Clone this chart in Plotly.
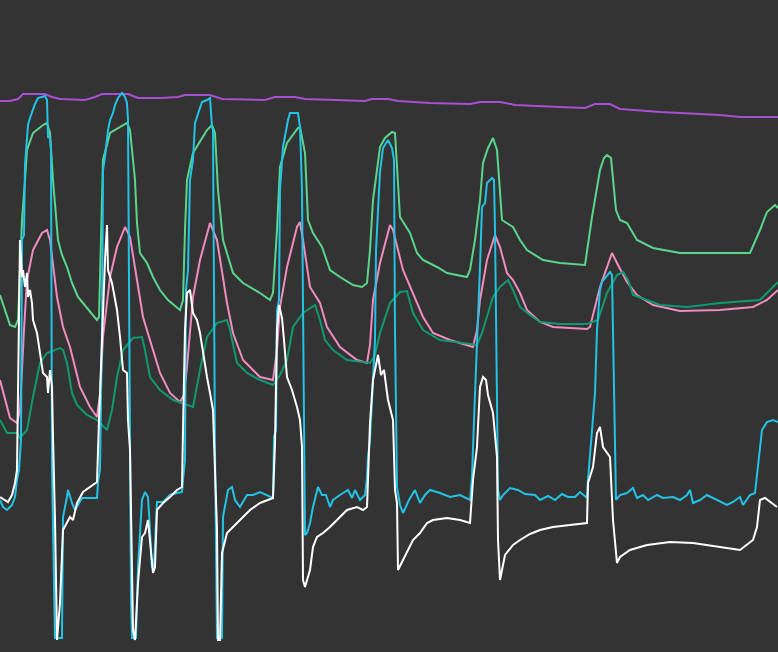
import plotly.graph_objects as go

# Each series: list of (time, reading) pairs; readings increase downward (reversed axis)
purple = [(0,101),(10,101),(18,99),(23,94),(45,94),(52,97),(60,99),(85,100),(95,97),(102,94),(128,94),
          (138,98),(160,98),(178,97),(185,95),(210,95),(222,99),(265,100),(275,97),(295,97),(305,99),
          (330,100),(365,101),(372,99),(388,99),(398,101),(430,103),(470,104),(480,102),(500,102),
          (515,105),(560,107),(585,108),(595,104),(610,104),(620,109),(660,112),(720,115),(740,117),(778,117)]

green = [(0,295),(5,310),(10,325),(15,327),(18,320),(20,270),(22,220),(25,180),(27,150),(33,133),(43,125),
         (47,123),(50,133),(53,180),(58,240),(62,255),(67,267),(72,283),(78,297),(87,308),(97,320),(99,317),
         (101,250),(103,160),(110,133),(123,125),(127,123),(130,130),(135,180),(137,223),(140,253),(147,263),
         (153,277),(160,290),(168,300),(180,310),(183,300),(185,230),(187,180),(193,153),(207,130),(212,125),
         (215,133),(218,190),(223,240),(233,273),(243,283),(260,293),(270,300),(273,293),(277,230),(280,167),
         (287,143),(298,128),(300,127),(305,153),(308,220),(313,233),(322,247),(330,270),(340,277),(353,285),
         (362,287),(367,283),(370,250),(373,200),(380,147),(385,138),(392,132),(395,133),(400,217),(410,233),
         (417,253),(423,260),(437,267),(447,273),(467,277),(470,270),(475,240),(480,200),(483,163),(488,148),
         (493,138),(497,150),(502,220),(513,227),(520,240),(527,250),(543,260),(560,263),(585,265),(592,217),
         (600,170),(604,158),(607,155),(611,158),(616,210),(620,220),(627,223),(637,240),(653,248),(680,253),
         (750,253),(760,230),(767,212),(775,205),(778,208)]

pink = [(0,380),(5,400),(10,418),(17,423),(20,410),(24,330),(27,280),(33,250),(42,233),(47,230),(50,240),
        (57,297),(63,327),(70,347),(80,387),(90,407),(97,417),(100,395),(103,337),(110,277),(117,247),
        (125,227),(130,237),(137,280),(143,317),(153,350),(160,373),(170,393),(180,402),(184,395),(187,367),
        (193,297),(200,260),(210,223),(217,240),(227,303),(233,333),(243,360),(260,377),(273,380),(277,350),
        (280,307),(287,267),(297,227),(300,222),(303,240),(310,287),(320,303),(327,327),(340,347),(357,360),
        (367,363),(370,345),(373,300),(380,263),(390,225),(393,230),(403,270),(413,293),(423,317),(433,333),
        (450,340),(473,347),(477,330),(480,300),(487,260),(495,235),(500,247),(507,273),(513,280),(520,293),
        (527,310),(540,322),(553,327),(587,329),(590,327),(600,287),(612,253),(617,263),(627,282),(637,295),
        (653,305),(680,311),(720,310),(753,307),(767,300),(778,290)]

teal = [(0,420),(7,433),(17,433),(20,438),(27,430),(33,397),(40,363),(47,353),(60,348),(63,350),(67,363),
        (72,393),(77,405),(87,415),(97,420),(107,430),(112,410),(117,377),(123,350),(133,338),(142,337),
        (145,350),(150,377),(160,390),(173,400),(187,405),(193,407),(200,370),(207,337),(217,323),(227,320),
        (230,330),(237,363),(247,373),(260,380),(273,385),(280,375),(287,360),(293,327),(303,313),(315,305),
        (320,320),(325,340),(333,350),(347,360),(370,363),(375,355),(380,333),(390,303),(400,292),(407,291),
        (413,313),(423,330),(440,340),(460,343),(477,345),(482,333),(487,317),(493,297),(500,287),(508,280),
        (513,290),(520,307),(530,315),(540,322),(560,324),(587,324),(598,320),(607,293),(617,275),(623,272),
        (628,280),(633,295),(647,300),(660,305),(687,307),(720,303),(760,300),(778,282)]

cyan = [(0,500),(3,507),(7,510),(12,505),(15,497),(17,480),(19,470),(21,440),(22,240),(24,235),(25,165),
        (28,125),(30,118),(32,112),(35,104),(38,98),(45,96),(47,100),(48,137),(50,138),(51,150),(52,470),
        (54,600),(55,638),(62,638),(63,517),(67,497),(68,490),(72,503),(75,510),(78,505),(82,498),(97,498),
        (98,482),(100,470),(102,330),(103,170),(105,157),(108,130),(110,120),(113,113),(115,105),(118,98),
        (122,93),(125,97),(127,103),(128,120),(130,450),(131,600),(132,638),(136,638),(138,567),(142,500),
        (145,492),(148,497),(150,530),(152,568),(154,565),(156,510),(157,502),(163,502),(170,495),(177,493),
        (182,492),(183,480),(185,460),(186,290),(188,270),(190,180),(193,160),(195,123),(198,113),(202,102),
        (207,100),(210,98),(212,127),(213,130),(215,450),(217,638),(222,638),(223,517),(228,490),(232,487),
        (235,500),(240,507),(247,495),(253,495),(260,492),(273,498),(274,437),(276,430),(277,310),(279,300),
        (280,190),(283,147),(288,120),(290,113),(298,113),(300,127),(302,190),(303,300),(304,420),(305,535),
        (307,533),(310,523),(313,507),(318,487),(322,495),(326,495),(330,507),(333,500),(340,495),(348,490),
        (352,498),(355,490),(360,500),(365,495),(367,477),(368,457),(370,440),(372,400),(375,340),(376,250),
        (380,172),(383,148),(388,140),(392,148),(394,160),(395,330),(397,487),(400,505),(403,513),(409,500),
        (415,490),(420,503),(425,495),(430,490),(440,493),(450,497),(460,495),(470,500),(472,477),(474,420),
        (477,350),(480,267),(482,207),(485,203),(487,183),(492,178),(494,180),(495,230),(497,400),(498,490),
        (500,500),(503,495),(510,488),(518,490),(525,494),(535,495),(540,500),(548,496),(555,500),(562,494),
        (568,497),(575,497),(580,492),(587,498),(588,480),(592,433),(595,393),(597,330),(600,290),(602,282),
        (605,278),(610,272),(612,275),(614,400),(616,500),(620,495),(627,493),(633,488),(637,498),(643,495),
        (648,500),(657,495),(663,498),(673,497),(680,500),(687,495),(690,490),(693,503),(700,500),(707,495),
        (713,498),(720,502),(727,505),(733,502),(740,497),(743,505),(750,495),(755,493),(758,463),(762,430),
        (767,422),(773,420),(778,422)]

white = [(0,497),(5,500),(8,502),(12,495),(15,483),(17,470),(18,380),(20,240),(22,277),(23,270),(25,287),
         (27,273),(28,297),(30,290),(32,303),(33,320),(37,333),(40,353),(43,373),(47,377),(48,393),(50,370),
         (52,387),(53,437),(54,500),(55,520),(57,640),(60,603),(63,530),(67,523),(70,517),(73,520),(77,503),
         (83,492),(90,487),(97,482),(99,420),(102,330),(105,260),(107,225),(108,270),(112,283),(115,300),
         (117,310),(120,337),(123,370),(127,373),(128,420),(130,450),(133,630),(135,640),(138,583),(142,537),
         (145,533),(148,520),(152,563),(153,573),(155,567),(157,510),(163,503),(170,497),(177,490),(182,487),
         (183,430),(185,330),(187,293),(190,290),(193,313),(197,320),(200,333),(203,353),(207,377),(210,393),
         (213,410),(215,470),(217,530),(218,640),(220,640),(222,553),(227,533),(233,527),(240,520),(250,510),
         (260,503),(273,498),(275,443),(277,330),(279,305),(282,318),(284,340),(287,377),(292,390),(297,407),
         (300,420),(302,447),(303,580),(305,587),(310,570),(313,547),(317,537),(323,533),(330,527),(337,520),
         (347,510),(357,507),(363,510),(367,507),(368,473),(370,423),(373,380),(376,365),(378,355),(381,375),
         (384,370),(388,400),(393,420),(395,490),(397,503),(398,570),(403,560),(407,553),(413,540),(420,533),
         (427,523),(433,520),(447,518),(460,520),(470,523),(473,480),(477,447),(480,387),(483,377),(486,380),
         (488,395),(493,413),(497,457),(498,540),(500,580),(505,555),(513,545),(520,540),(530,534),(540,530),
         (553,527),(570,525),(587,523),(588,483),(593,467),(597,433),(600,427),(603,447),(610,457),(613,520),
         (617,563),(620,557),(630,550),(647,545),(670,542),(693,543),(720,547),(740,550),(753,540),(757,527),
         (760,500),(765,498),(777,507)]

series = [
    ("purple", purple, "#a94fd4"),
    ("green", green, "#5ad68c"),
    ("pink", pink, "#f08cbe"),
    ("teal", teal, "#10996f"),
    ("cyan", cyan, "#22c3e6"),
    ("white", white, "#ffffff"),
]

fig = go.Figure()
for name, pts, color in series:
    xs = [p[0] for p in pts]
    ys = [p[1] for p in pts]
    fig.add_trace(go.Scatter(x=xs, y=ys, mode="lines", name=name,
                             line=dict(color=color, width=2), hoverinfo="skip"))

fig.update_layout(
    width=778, height=652,
    margin=dict(l=0, r=0, t=0, b=0),
    paper_bgcolor="#333333", plot_bgcolor="#333333",
    showlegend=False,
    xaxis=dict(visible=False, range=[0, 778], fixedrange=True),
    yaxis=dict(visible=False, range=[652, 0], fixedrange=True),
)
fig.write_html(
    "out.html",
    config={"displayModeBar": False},
    post_script="document.body.style.margin='0';document.body.style.background='#333333';",
)
